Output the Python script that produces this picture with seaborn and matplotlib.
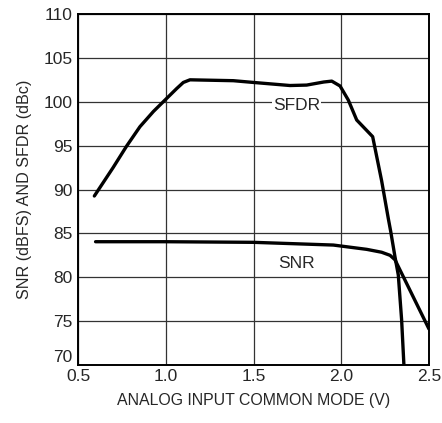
import pandas as pd
import seaborn as sns
import matplotlib.pyplot as plt

# values
sfdr_x = [0.593, 0.70, 0.777, 0.853, 0.93, 1.0, 1.062, 1.10, 1.138, 1.385, 1.5, 1.708, 1.803, 1.90,
          1.946, 1.993, 2.04, 2.088, 2.179, 2.230, 2.268, 2.282, 2.306, 2.325, 2.344, 2.357]
sfdr_y = [89.26, 92.5, 94.95, 97.16, 98.9, 100.28, 101.5, 102.2, 102.5, 102.4, 102.2, 101.85, 101.9, 102.25,
          102.35, 101.8, 100.2, 97.92, 96.02, 91.0, 86.7, 85.2, 82.34, 80.26, 75.13, 70.0]

snr_x = [0.6, 1.0, 1.5, 1.955, 2.145, 2.23, 2.278, 2.306, 2.5]
snr_y = [84.05, 84.05, 83.98, 83.67, 83.18, 82.85, 82.5, 82.0, 74.1]

x_ticks = [0.5, 1.0, 1.5, 2.0, 2.5]
y_ticks = [70, 75, 80, 85, 90, 95, 100, 105, 110]

df = pd.concat([
    pd.DataFrame({'x': sfdr_x, 'y': sfdr_y, 'curve': 'SFDR'}),
    pd.DataFrame({'x': snr_x, 'y': snr_y, 'curve': 'SNR'}),
])

sns.set_style('white')
plt.rcParams['font.family'] = ['Liberation Sans', 'DejaVu Sans']

fig = plt.figure(figsize=(4.42, 4.23), dpi=100)
ax = fig.add_axes([0.1765, 0.1371, 0.7941, 0.8298])

sns.lineplot(data=df, x='x', y='y', units='curve', estimator=None, sort=False,
             color='black', linewidth=2.4, legend=False, ax=ax)

ax.set_xlim(0.5, 2.5)
ax.set_ylim(70, 110)
ax.set_xticks(x_ticks)
ax.set_yticks(y_ticks)
ax.set_xticklabels([f'{v:.1f}' for v in x_ticks], fontsize=12.5)
ax.set_yticklabels([str(v) for v in y_ticks], fontsize=12.5)
ax.tick_params(length=0, pad=4)
ax.tick_params(axis='x', pad=3)
# 70 sits a bit above the corner in the reference
ax.get_yticklabels()[0].set_verticalalignment('bottom')

ax.grid(True, color='#333333', linewidth=0.9)
for s in ax.spines.values():
    s.set_color('black')
    s.set_linewidth(1.4)

ax.set_xlabel('ANALOG INPUT COMMON MODE (V)', fontsize=11.4, labelpad=6)
ax.set_ylabel('SNR (dBFS) AND SFDR (dBc)', fontsize=11.6, labelpad=8)

ax.text(1.746, 99.6, 'SFDR', fontsize=12.5, ha='center', va='center',
        bbox=dict(facecolor='white', edgecolor='none', pad=0.5))
ax.text(1.746, 81.6, 'SNR', fontsize=12.5, ha='center', va='center')

plt.savefig('out.png', dpi=100)
